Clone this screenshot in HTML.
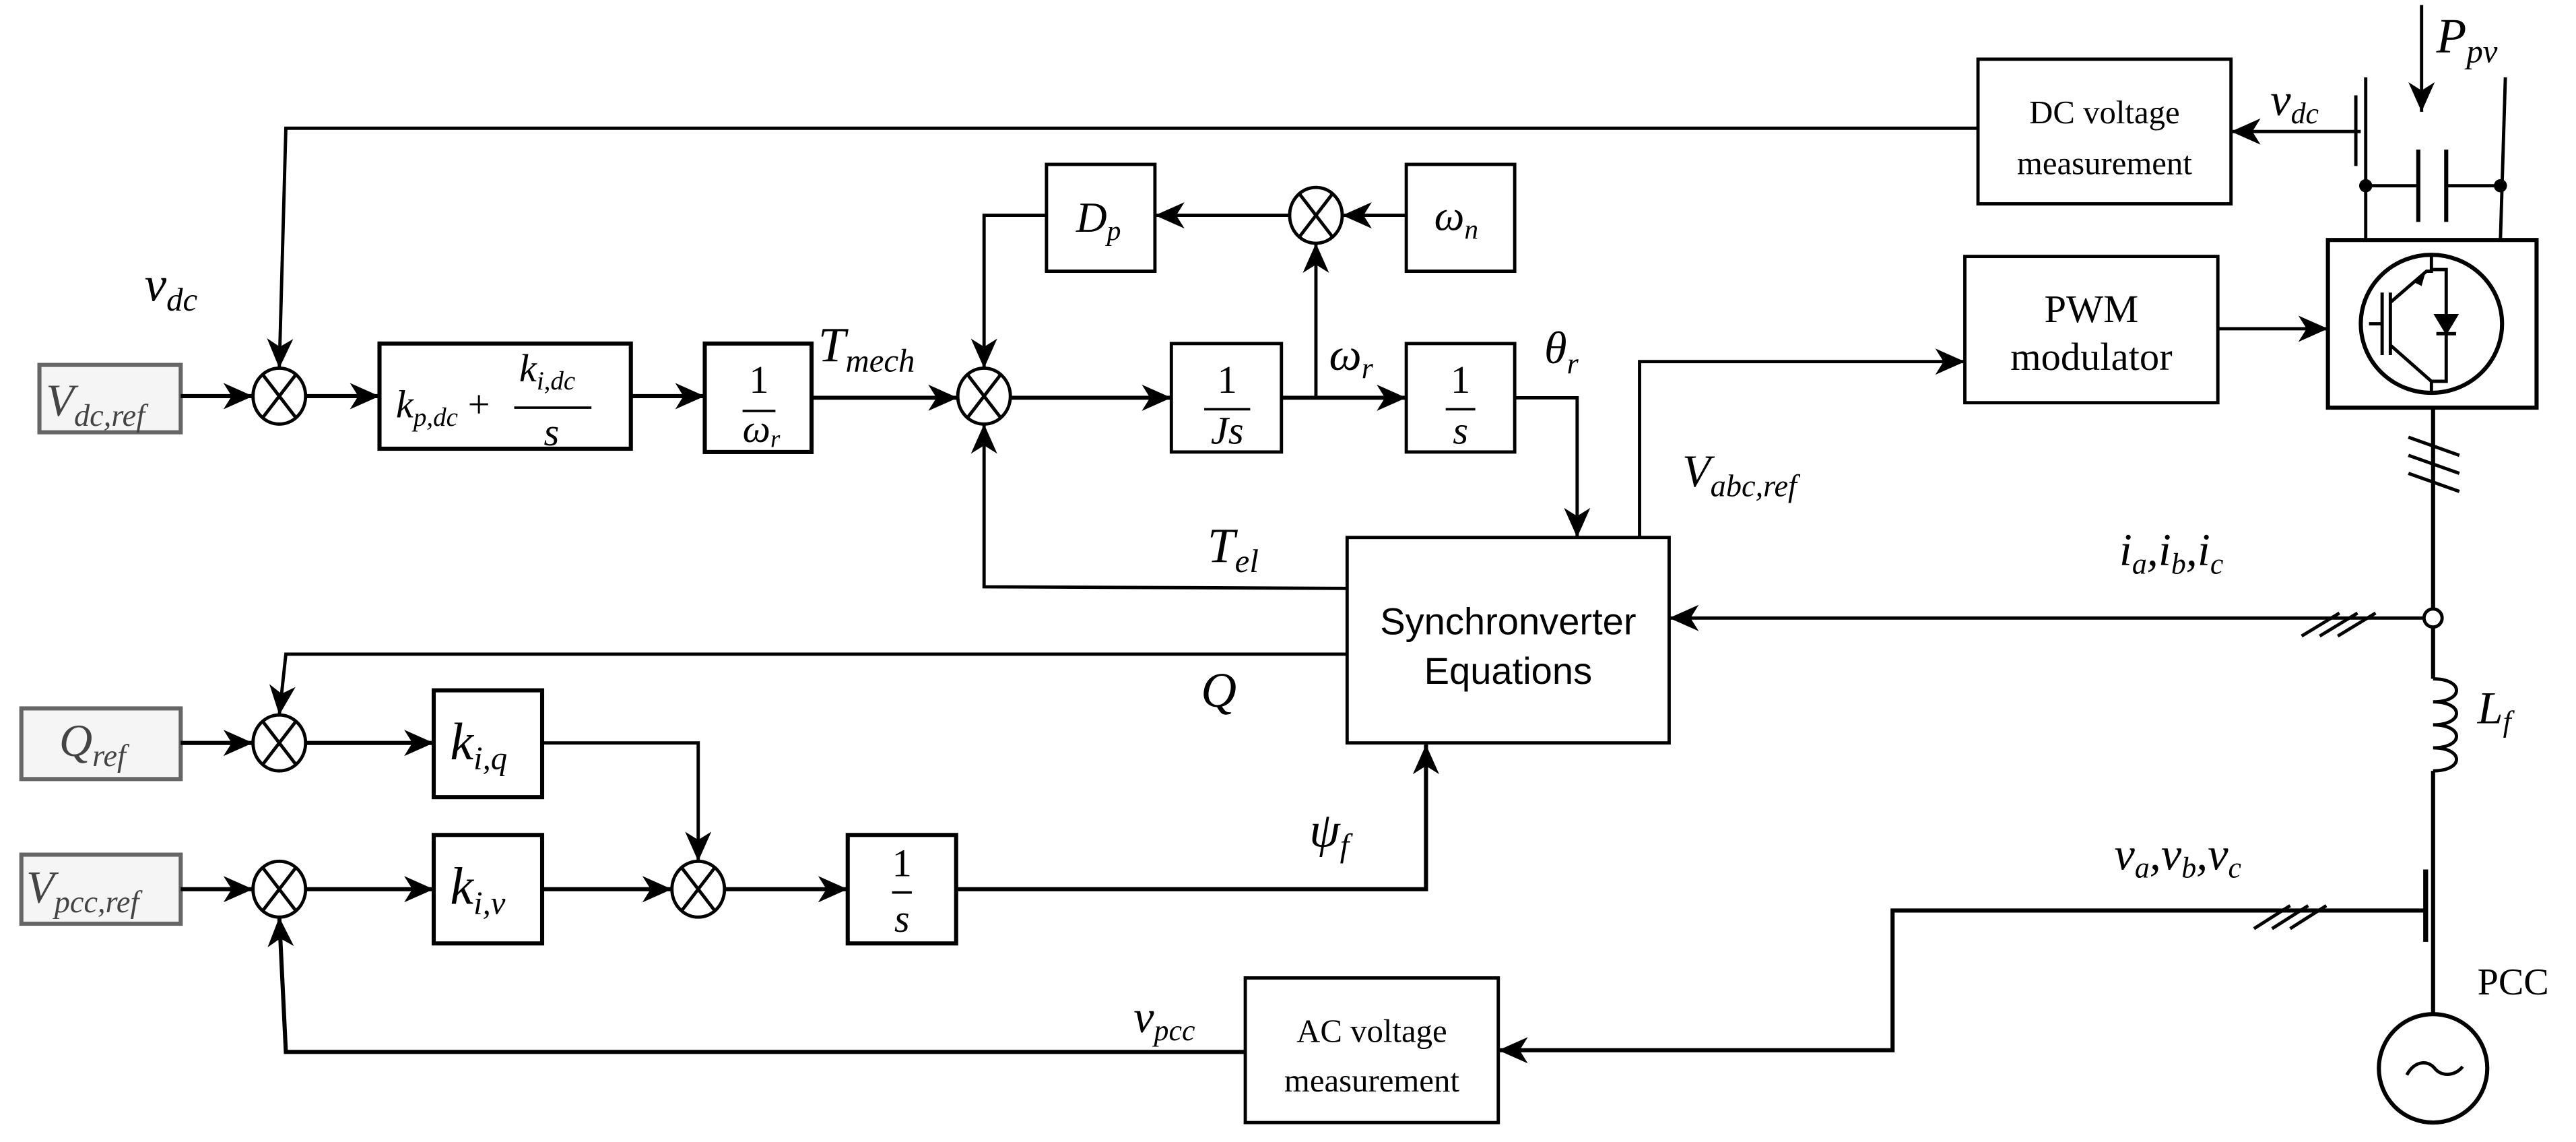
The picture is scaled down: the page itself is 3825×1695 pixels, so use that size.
<!DOCTYPE html>
<html><head><meta charset="utf-8"><style>
html,body{margin:0;padding:0;background:#fff;}
svg{display:block;}
.m{font-family:"Liberation Serif",serif;font-style:italic;fill:#000;}
.r{font-family:"Liberation Serif",serif;fill:#000;}
.s{font-family:"Liberation Sans",sans-serif;fill:#000;}
</style></head><body>
<svg width="3825" height="1695" viewBox="0 0 1568 694.8" xmlns="http://www.w3.org/2000/svg">
<defs>
<marker id="a" markerUnits="userSpaceOnUse" markerWidth="19" markerHeight="16" refX="18" refY="8" orient="auto">
<path d="M0,0 L18,8 L0,16 L5,8 Z" fill="#000"/>
</marker>
</defs>
<g fill="none" stroke="#000" stroke-width="2">
<rect x="24" y="222" width="86" height="41" fill="#f5f5f5" stroke="#666" stroke-width="2.5"/>
<rect x="13" y="431" width="97" height="43" fill="#f5f5f5" stroke="#666" stroke-width="2.5"/>
<rect x="13" y="520" width="97" height="42" fill="#f5f5f5" stroke="#666" stroke-width="2.5"/>
<rect x="231" y="209" width="153" height="64" stroke-width="2.5"/>
<rect x="429" y="209" width="65" height="66" stroke-width="2.5"/>
<rect x="713" y="209" width="67" height="66"/>
<rect x="856" y="209" width="66" height="66"/>
<rect x="637" y="100" width="66" height="65"/>
<rect x="856" y="100" width="66" height="65"/>
<rect x="820" y="327" width="196" height="125"/>
<rect x="264" y="420" width="66" height="65" stroke-width="2.5"/>
<rect x="264" y="508" width="66" height="66" stroke-width="2.5"/>
<rect x="516" y="508" width="66" height="66" stroke-width="2.5"/>
<rect x="1204" y="36" width="154" height="88"/>
<rect x="1196" y="156" width="154" height="89"/>
<rect x="1417" y="146" width="127" height="102" stroke-width="2.5"/>
<rect x="758" y="595" width="154" height="88"/>
<ellipse cx="170" cy="241" rx="16" ry="17"/>
<line x1="160" y1="228" x2="180" y2="254"/><line x1="180" y1="228" x2="160" y2="254"/>
<ellipse cx="599" cy="241" rx="16" ry="17"/><line x1="589" y1="228" x2="609" y2="254"/><line x1="609" y1="228" x2="589" y2="254"/>
<ellipse cx="801" cy="131" rx="16" ry="17"/><line x1="791" y1="118" x2="811" y2="144"/><line x1="811" y1="118" x2="791" y2="144"/>
<ellipse cx="170" cy="452" rx="16" ry="17"/><line x1="160" y1="439" x2="180" y2="465"/><line x1="180" y1="439" x2="160" y2="465"/>
<ellipse cx="170" cy="541" rx="16" ry="17"/><line x1="160" y1="528" x2="180" y2="554"/><line x1="180" y1="528" x2="160" y2="554"/>
<ellipse cx="425" cy="541" rx="16" ry="17"/><line x1="415" y1="528" x2="435" y2="554"/><line x1="435" y1="528" x2="415" y2="554"/>
<line x1="110" y1="241" x2="154" y2="241" stroke-width="2.5" marker-end="url(#a)"/>
<line x1="186" y1="241" x2="231" y2="241" stroke-width="2.5" marker-end="url(#a)"/>
<line x1="384" y1="241" x2="429" y2="241" stroke-width="2.5" marker-end="url(#a)"/>
<line x1="494" y1="242" x2="583" y2="242" stroke-width="2.5" marker-end="url(#a)"/>
<line x1="615" y1="242" x2="713" y2="242" stroke-width="2.5" marker-end="url(#a)"/>
<line x1="780" y1="242" x2="856" y2="242" stroke-width="2.5" marker-end="url(#a)"/>
<polyline points="801,242 801,148" marker-end="url(#a)"/>
<line x1="856" y1="131" x2="817" y2="131" marker-end="url(#a)"/>
<line x1="785" y1="131" x2="703" y2="131" marker-end="url(#a)"/>
<polyline points="637,131 599,131 599,224" marker-end="url(#a)"/>
<polyline points="922,242 960,242 960,327" marker-end="url(#a)"/>
<polyline points="820,358 599,357 599,258" marker-end="url(#a)"/>
<polyline points="1204,78 174,78 170,224" marker-end="url(#a)"/>
<polyline points="998,327 998,220 1196,220" marker-end="url(#a)"/>
<line x1="1350" y1="200" x2="1417" y2="200" marker-end="url(#a)"/>
<line x1="1437" y1="80" x2="1358" y2="80" marker-end="url(#a)"/>
<polyline points="820,398 174,398 170,435" marker-end="url(#a)"/>
<line x1="110" y1="452" x2="154" y2="452" stroke-width="2.5" marker-end="url(#a)"/>
<line x1="186" y1="452" x2="264" y2="452" stroke-width="2.5" marker-end="url(#a)"/>
<polyline points="330,452 425,452 425,524" marker-end="url(#a)"/>
<line x1="110" y1="541" x2="154" y2="541" stroke-width="2.5" marker-end="url(#a)"/>
<line x1="186" y1="541" x2="264" y2="541" stroke-width="2.5" marker-end="url(#a)"/>
<line x1="330" y1="541" x2="409" y2="541" stroke-width="2.5" marker-end="url(#a)"/>
<line x1="441" y1="541" x2="516" y2="541" stroke-width="2.5" marker-end="url(#a)"/>
<polyline points="582,541 868,541 868,453" stroke-width="2.5" marker-end="url(#a)"/>
<polyline points="758,640 174,640 170,558" stroke-width="2.5" marker-end="url(#a)"/>
<polyline points="1476,554 1152,554 1152,639 912,639" stroke-width="2.5" marker-end="url(#a)"/>
<line x1="1476" y1="376" x2="1016" y2="376" marker-end="url(#a)"/>
<g stroke-width="2">
<line x1="1401" y1="387" x2="1424" y2="373"/><line x1="1412" y1="387" x2="1435" y2="373"/><line x1="1423" y1="387" x2="1446" y2="373"/>
<line x1="1372" y1="565" x2="1394" y2="551"/><line x1="1383" y1="565" x2="1405" y2="551"/><line x1="1394" y1="565" x2="1416" y2="551"/>
<line x1="1466" y1="266" x2="1497" y2="277"/><line x1="1466" y1="277" x2="1497" y2="288"/><line x1="1466" y1="288" x2="1497" y2="299"/>
</g>
<line x1="1481" y1="248" x2="1481" y2="370" stroke-width="2.5"/>
<circle cx="1481" cy="376" r="5.5" stroke-width="2" fill="#fff"/>
<line x1="1481" y1="382" x2="1481" y2="413" stroke-width="2.5"/>
<path d="M1481,413 C1500,413 1500,427 1481,427 C1500,427 1500,441 1481,441 C1500,441 1500,455 1481,455 C1500,455 1500,469 1481,469" stroke-width="2"/>
<line x1="1481" y1="469" x2="1481" y2="617" stroke-width="2.5"/>
<line x1="1476.5" y1="529" x2="1476.5" y2="573" stroke-width="3"/>
<ellipse cx="1481" cy="650" rx="33" ry="33" stroke-width="2.5"/>
<path d="M1465,654 C1470,645 1478,645 1482,650 C1486,655 1494,655 1499,649" stroke-width="2"/>
<line x1="1474" y1="3" x2="1474" y2="68" marker-end="url(#a)"/>
<line x1="1434" y1="58" x2="1434" y2="101"/>
<line x1="1440" y1="47" x2="1440" y2="146"/>
<line x1="1525" y1="47" x2="1522" y2="146"/>
<line x1="1440" y1="113" x2="1472" y2="113"/><line x1="1489" y1="113" x2="1522" y2="113"/>
<line x1="1472" y1="91" x2="1472" y2="135" stroke-width="2.5"/><line x1="1489" y1="91" x2="1489" y2="135" stroke-width="2.5"/>
<ellipse cx="1480" cy="197" rx="43" ry="42" stroke-width="2.5"/>
<line x1="1442" y1="197" x2="1450" y2="197"/>
<line x1="1450" y1="178" x2="1450" y2="216"/>
<line x1="1455" y1="178" x2="1455" y2="216"/>
<polyline points="1455,184 1477,165 1480,165 1480,155"/>
<polyline points="1455,210 1480,232 1480,239"/>
<polyline points="1480,164 1489,164 1489,232 1480,232"/>
<path d="M1483,192 L1495,192 L1489,202 Z" fill="#000"/>
<line x1="1483" y1="203" x2="1495" y2="203"/>
</g>
<circle cx="1440" cy="113" r="4" fill="#000"/>
<circle cx="1522" cy="113" r="4" fill="#000"/>
<path d="M1476,167 L1470,172 L1474,174 Z" fill="#000"/>
<text class="m" x="28" y="253" font-size="28" style="fill:#444">V<tspan font-size="19" dy="6">dc,ref</tspan></text>
<text class="m" x="36" y="460" font-size="28" style="fill:#444">Q<tspan font-size="19" dy="6">ref</tspan></text>
<text class="m" x="16" y="549" font-size="28" style="fill:#444">V<tspan font-size="19" dy="6">pcc,ref</tspan></text>
<text class="m" x="88" y="183" font-size="30">v<tspan font-size="20" dy="6">dc</tspan></text>
<text class="m" x="241" y="254" font-size="24">k<tspan font-size="16" dy="5">p,dc</tspan><tspan dy="-5" font-style="normal"> + </tspan></text>
<text class="m" x="316" y="232" font-size="24">k<tspan font-size="16" dy="5">i,dc</tspan></text>
<line x1="313" y1="248" x2="360" y2="248" stroke="#000" stroke-width="1.5"/>
<text class="m" x="331" y="271" font-size="24">s</text>
<text class="r" x="462" y="239" font-size="24" text-anchor="middle">1</text>
<line x1="452" y1="250" x2="472" y2="250" stroke="#000" stroke-width="1.5"/>
<text class="m" x="452" y="269" font-size="24">ω<tspan font-size="15" dy="3">r</tspan></text>
<text class="m" x="498" y="220" font-size="30">T<tspan font-size="20" dy="6">mech</tspan></text>
<text class="r" x="747" y="239" font-size="24" text-anchor="middle">1</text>
<line x1="733" y1="249" x2="761" y2="249" stroke="#000" stroke-width="1.5"/>
<text class="m" x="747" y="270" font-size="24" text-anchor="middle">Js</text>
<text class="r" x="889" y="239" font-size="24" text-anchor="middle">1</text>
<line x1="880" y1="249" x2="898" y2="249" stroke="#000" stroke-width="1.5"/>
<text class="m" x="889" y="270" font-size="24" text-anchor="middle">s</text>
<text class="m" x="655" y="141" font-size="26">D<tspan font-size="17" dy="5">p</tspan></text>
<text class="m" x="873" y="140" font-size="26">ω<tspan font-size="17" dy="5">n</tspan></text>
<text class="m" x="809" y="225" font-size="28">ω<tspan font-size="18" dy="5">r</tspan></text>
<text class="m" x="940" y="221" font-size="28">θ<tspan font-size="18" dy="6">r</tspan></text>
<text class="m" x="1024" y="296" font-size="28">V<tspan font-size="19" dy="6">abc,ref</tspan></text>
<text class="m" x="735" y="342" font-size="30">T<tspan font-size="20" dy="6">el</tspan></text>
<text class="m" x="731" y="430" font-size="30">Q</text>
<text class="s" x="918" y="386" font-size="23" text-anchor="middle">Synchronverter</text>
<text class="s" x="918" y="416" font-size="23" text-anchor="middle">Equations</text>
<text class="m" x="274" y="462" font-size="32">k<tspan font-size="20" dy="6">i,q</tspan></text>
<text class="m" x="274" y="550" font-size="32">k<tspan font-size="20" dy="6">i,v</tspan></text>
<text class="r" x="549" y="533" font-size="24" text-anchor="middle">1</text>
<line x1="543" y1="543" x2="555" y2="543" stroke="#000" stroke-width="1.5"/>
<text class="m" x="549" y="567" font-size="24" text-anchor="middle">s</text>
<text class="m" x="797" y="515" font-size="30">ψ<tspan font-size="20" dy="6">f</tspan></text>
<text class="m" x="690" y="628" font-size="28">v<tspan font-size="18" dy="5">pcc</tspan></text>
<text class="r" x="835" y="634" font-size="20" text-anchor="middle">AC voltage</text>
<text class="r" x="835" y="664" font-size="20" text-anchor="middle">measurement</text>
<text class="r" x="1281" y="75" font-size="20" text-anchor="middle">DC voltage</text>
<text class="r" x="1281" y="106" font-size="20" text-anchor="middle">measurement</text>
<text class="r" x="1273" y="196" font-size="24" text-anchor="middle">PWM</text>
<text class="r" x="1273" y="225" font-size="24" text-anchor="middle">modulator</text>
<text class="m" x="1382" y="70" font-size="28">v<tspan font-size="18" dy="5">dc</tspan></text>
<text class="m" x="1483" y="32" font-size="30">P<tspan font-size="20" dy="6">pv</tspan></text>
<text class="m" x="1290" y="344" font-size="28">i<tspan font-size="18" dy="5">a</tspan><tspan dy="-5">,i</tspan><tspan font-size="18" dy="5">b</tspan><tspan dy="-5">,i</tspan><tspan font-size="18" dy="5">c</tspan></text>
<text class="m" x="1287" y="529" font-size="28">v<tspan font-size="18" dy="5">a</tspan><tspan dy="-5">,v</tspan><tspan font-size="18" dy="5">b</tspan><tspan dy="-5">,v</tspan><tspan font-size="18" dy="5">c</tspan></text>
<text class="m" x="1508" y="440" font-size="28">L<tspan font-size="18" dy="5">f</tspan></text>
<text class="r" x="1508" y="605" font-size="23">PCC</text>
</svg>
</body></html>
